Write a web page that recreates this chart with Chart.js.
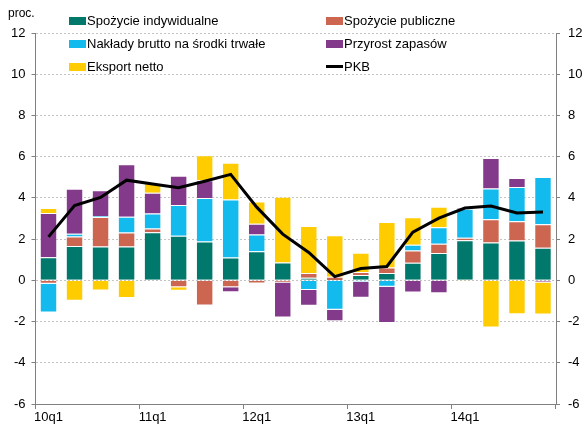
<!DOCTYPE html>
<html>
<head>
<meta charset="utf-8">
<script src="https://cdn.jsdelivr.net/npm/chart.js@4"></script>
<style>
  body { margin: 0; background: #fff; }
  #box { position: relative; width: 588px; height: 434px; font-family: "Liberation Sans", Arial, sans-serif; }
  #proc { position: absolute; left: 8px; top: 6px; font-size: 12px; }
  .leg { position: absolute; font-size: 13px; line-height: 16px; white-space: nowrap; }
  .leg span.sw { display: inline-block; width: 17px; height: 8px; vertical-align: middle; margin-right: 1px; position: relative; top: -1px; }
  .leg span.ln { display: inline-block; width: 17px; height: 3px; background: #000; vertical-align: middle; margin-right: 1px; position: relative; top: -1px; }
</style>
</head>
<body>
<div id="box">
  <canvas id="wykres" width="588" height="434"></canvas>
  <div id="proc">proc.</div>
  <div id="legenda"></div>
</div>
<script>
var kwartaly = ['10q1','10q2','10q3','10q4','11q1','11q2','11q3','11q4','12q1','12q2','12q3','12q4',
                '13q1','13q2','13q3','13q4','14q1','14q2','14q3','14q4']

var spozycieIndyw = [1.12, 1.66, 1.64, 1.64, 2.33, 2.16, 1.89, 1.11, 1.41, 0.86, 0.13, 0.02, 0.26, 0.36, 0.85, 1.33, 1.95, 1.84, 1.93, 1.58]
var spozyciePubl  = [-0.16, 0.47, 1.43, 0.68, 0.18, -0.33, -1.22, -0.34, -0.15, -0.11, 0.23, 0.15, 0.14, 0.26, 0.60, 0.44, 0.11, 1.12, 0.94, 1.14]
var naklady       = [-1.40, 0.13, 0.05, 0.76, 0.73, 1.50, 2.11, 2.81, 0.81, 0, -0.47, -1.43, -0.07, -0.31, 0.28, 0.81, 1.41, 1.50, 1.66, 2.29]
var zapasy        = [2.15, 2.18, 1.25, 2.55, 1.01, 1.41, 0.85, -0.24, 0.52, -1.69, -0.76, -0.55, -0.78, -1.76, -0.59, -0.63, 0.05, 1.48, 0.44, -0.10]
var eksport       = [0.24, -0.99, -0.49, -0.86, 0.46, -0.18, 1.22, 1.79, 1.09, 3.19, 2.28, 2.02, 0.94, 2.21, 1.33, 0.99, -0.05, -2.29, -1.64, -1.56]
var pkb           = [2.11, 3.63, 4.02, 4.86, 4.67, 4.49, 4.81, 5.14, 3.55, 2.24, 1.35, 0.18, 0.57, 0.67, 2.34, 3.02, 3.51, 3.61, 3.27, 3.32]

var osY = { min: -6, max: 12, krok: 2 }

var fonte = { family: '"Liberation Sans", Arial, sans-serif', size: 13 }

function slupek(nazwa, dane, kolor) {
    return {
        type: 'bar',
        label: nazwa,
        data: dane,
        backgroundColor: kolor,
        borderColor: 'rgba(255,255,255,0.35)',
        borderWidth: 1,
        barPercentage: 0.67,
        categoryPercentage: 1,
        stack: 'skladniki',
        order: 1
    }
}

var zbiory = [
    {
        type: 'line',
        label: 'PKB',
        data: pkb,
        borderColor: '#000',
        borderWidth: 3,
        pointRadius: 0,
        tension: 0,
        stack: 'pkb',
        order: 0
    },
    slupek('Spożycie indywidualne', spozycieIndyw, '#00786C'),
    slupek('Spożycie publiczne', spozyciePubl, '#CC6650'),
    slupek('Nakłady brutto na środki trwałe', naklady, '#12BAEE'),
    slupek('Przyrost zapasów', zapasy, '#833A8B'),
    slupek('Eksport netto', eksport, '#FFCC00')
]

var myChart = new Chart(document.getElementById('wykres'), {
    data: { labels: kwartaly, datasets: zbiory },
    options: {
        responsive: false,
        animation: false,
        devicePixelRatio: 1,
        layout: { padding: { top: 33, left: 0, right: 0, bottom: 0 } },
        plugins: { legend: { display: false }, tooltip: { enabled: false } },
        scales: {
            x: {
                stacked: true,
                grid: {
                    offset: true,
                    drawOnChartArea: false,
                    tickLength: 5,
                    color: function (ctx) {
                        if (ctx.index === undefined || ctx.index % 4 === 0) return '#808080'
                        return 'rgba(0,0,0,0)'
                    }
                },
                border: { color: '#808080' },
                ticks: {
                    font: fonte, color: '#000', padding: 1, maxRotation: 0, autoSkip: false,
                    callback: function (v, i) { return i % 4 === 0 ? kwartaly[i] : '' }
                },
                afterFit: function (s) { s.height = 30 }
            },
            y: {
                stacked: true,
                position: 'left',
                min: osY.min, max: osY.max,
                grid: { color: '#c4c4c4', tickLength: 4, tickColor: '#808080', tickBorderDash: [] },
                border: { color: '#808080', dash: [2, 2] },
                ticks: { stepSize: osY.krok, font: fonte, color: '#000', padding: 6 },
                afterFit: function (s) { s.width = 35.5 }
            },
            y2: {
                position: 'right',
                min: osY.min, max: osY.max,
                grid: { drawOnChartArea: false, tickLength: 4, color: '#808080' },
                border: { color: '#808080' },
                ticks: { stepSize: osY.krok, font: fonte, color: '#000', padding: 8 },
                afterFit: function (s) { s.width = 32 }
            }
        }
    }
})

// legenda w dwoch kolumnach, jak w oryginale
var legenda = document.getElementById('legenda')
var kolejnosc = [1, 2, 3, 4, 5, 0]
var kolumnyX = [69, 326]
var wierszeY = [13, 36, 59]
for (var i = 0; i < kolejnosc.length; i++) {
    var ds = zbiory[kolejnosc[i]]
    var el = document.createElement('div')
    el.className = 'leg'
    el.style.left = kolumnyX[i % 2] + 'px'
    el.style.top = wierszeY[Math.floor(i / 2)] + 'px'
    var znak = ds.type === 'line'
        ? '<span class="ln"></span>'
        : '<span class="sw" style="background:' + ds.backgroundColor + '"></span>'
    el.innerHTML = znak + ds.label
    legenda.appendChild(el)
}
</script>
</body>
</html>
